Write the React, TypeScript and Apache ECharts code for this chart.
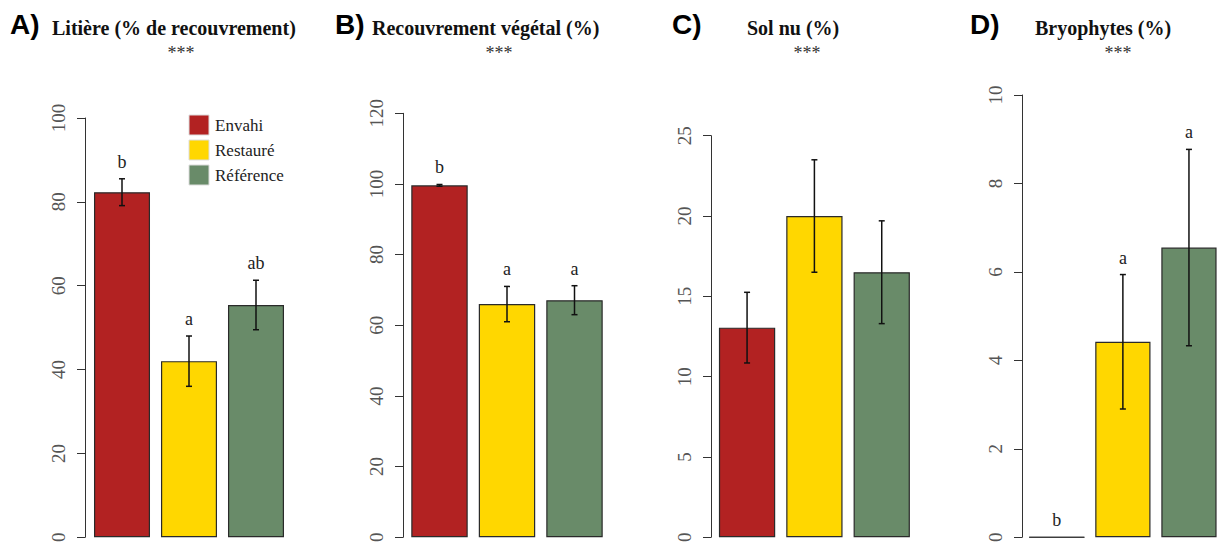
import React, { useEffect, useRef } from "react";
import * as echarts from "echarts";

// ---- data ----
const groups = ["Envahi", "Restauré", "Référence"];
const groupColors = ["#B22222", "#FFD700", "#698B69"];

const panelTags = ["A)", "B)", "C)", "D)"];
const panelTitles = [
  "Litière (% de recouvrement)",
  "Recouvrement végétal (%)",
  "Sol nu (%)",
  "Bryophytes (%)",
];
const panelSignif = ["***", "***", "***", "***"];

const litiereMean = [82.3, 42.0, 55.4];
const litiereSE = [3.2, 6.0, 5.9];
const litiereLetters = ["b", "a", "ab"];

const vegetalMean = [99.6, 66.0, 67.1];
const vegetalSE = [0.25, 5.0, 4.1];
const vegetalLetters = ["b", "a", "a"];

const solNuMean = [13.05, 20.0, 16.5];
const solNuSE = [2.2, 3.5, 3.2];
const solNuLetters = ["", "", ""];

const bryoMean = [0, 4.42, 6.55];
const bryoSE = [0, 1.52, 2.22];
const bryoLetters = ["b", "a", "a"];

const yMaxes = [100, 120, 25, 10];
const yIntervals = [20, 20, 5, 2];

// ---- layout ----
const panels = [
  { mean: litiereMean, se: litiereSE, letters: litiereLetters },
  { mean: vegetalMean, se: vegetalSE, letters: vegetalLetters },
  { mean: solNuMean, se: solNuSE, letters: solNuLetters },
  { mean: bryoMean, se: bryoSE, letters: bryoLetters },
];
const gridLayout = [
  { left: 88.5, width: 201, top: 118, bottom: 3, axisX: 85 },
  { left: 405.75, width: 202.5, top: 113.3, bottom: 3.3, axisX: 403 },
  { left: 713.4, width: 202, top: 135.7, bottom: 3.3, axisX: 711 },
  { left: 1023.75, width: 202.5, top: 95, bottom: 4.5, axisX: 1022 },
];
const tagX = [10, 335, 672, 970];
const titleX = [52, 372, 747, 1035];
const signifX = [181, 499, 807, 1118];

export default function App() {
  const ref = useRef<HTMLDivElement>(null);

  useEffect(() => {
    if (!ref.current) return;
    const chart = echarts.init(ref.current, undefined, { renderer: "svg" });

    const grids = gridLayout.map((g) => ({
      left: g.left,
      width: g.width,
      top: g.top,
      bottom: g.bottom,
      containLabel: false,
    }));

    const xAxes = panels.map((_, i) => ({
      type: "category",
      gridIndex: i,
      data: groups,
      show: false,
      boundaryGap: true,
    }));

    const yAxes = panels.map((_, i) => ({
      type: "value",
      gridIndex: i,
      min: 0,
      max: yMaxes[i],
      interval: yIntervals[i],
      offset: gridLayout[i].left - gridLayout[i].axisX,
      axisLine: { show: true, lineStyle: { color: "#333", width: 1 } },
      axisTick: { show: true, length: 8, lineStyle: { color: "#333", width: 1 } },
      splitLine: { show: false },
      axisLabel: {
        rotate: 90,
        fontSize: 19,
        fontFamily: "Liberation Serif",
        color: "#555",
        margin: 17,
      },
    }));

    const series: any[] = [];
    panels.forEach((p, i) => {
      series.push({
        type: "bar",
        xAxisIndex: i,
        yAxisIndex: i,
        barWidth: "83.6%",
        z: 2,
        data: p.mean.map((v, k) => ({
          value: v,
          itemStyle: { color: groupColors[k], borderColor: "#2a2a2a", borderWidth: 1.2 },
        })),
      });
      series.push({
        type: "custom",
        xAxisIndex: i,
        yAxisIndex: i,
        clip: false,
        z: 5,
        data: p.mean.map((v, k) => [k, v, p.se[k]]),
        renderItem: (params: any, api: any) => {
          const k = api.value(0);
          const m = api.value(1);
          const s = api.value(2);
          const band = api.size([1, 0])[0];
          const top = api.coord([k, m + s]);
          const bot = api.coord([k, m - s]);
          const base = api.coord([k, 0]);
          const stroke = { stroke: "#111", lineWidth: 1.5 };
          const children: any[] = [];
          if (m === 0) {
            children.push({
              type: "line",
              shape: { x1: base[0] - band * 0.418, y1: base[1], x2: base[0] + band * 0.418, y2: base[1] },
              style: { stroke: "#333", lineWidth: 1.2 },
            });
          }
          if (s > 0) {
            children.push({ type: "line", shape: { x1: top[0], y1: top[1], x2: bot[0], y2: bot[1] }, style: stroke });
            children.push({ type: "line", shape: { x1: top[0] - 3, y1: top[1], x2: top[0] + 3, y2: top[1] }, style: stroke });
            children.push({ type: "line", shape: { x1: bot[0] - 3, y1: bot[1], x2: bot[0] + 3, y2: bot[1] }, style: stroke });
          }
          const letter = p.letters[params.dataIndex];
          if (letter) {
            children.push({
              type: "text",
              x: top[0],
              y: top[1] - 17,
              style: {
                text: letter,
                fontSize: 18,
                fontFamily: "Liberation Serif",
                fill: "#222",
                align: "center",
                verticalAlign: "middle",
              },
            });
          }
          return { type: "group", children };
        },
      });
    });

    const graphics: any[] = [];
    panels.forEach((_, i) => {
      graphics.push({
        type: "text",
        left: tagX[i],
        top: 10,
        style: {
          text: panelTags[i],
          fontSize: 28,
          fontWeight: "bold",
          fontFamily: "Liberation Sans",
          fill: "#000",
        },
      });
      graphics.push({
        type: "text",
        x: titleX[i],
        y: 27.5,
        style: {
          text: panelTitles[i],
          fontSize: 20,
          fontWeight: "bold",
          fontFamily: "Liberation Serif",
          fill: "#111",
          align: "left",
          verticalAlign: "middle",
        },
      });
      graphics.push({
        type: "text",
        x: signifX[i],
        y: 53,
        style: {
          text: panelSignif[i],
          fontSize: 18,
          fontFamily: "Liberation Serif",
          fill: "#333",
          align: "center",
          verticalAlign: "middle",
        },
      });
    });
    groups.forEach((g, k) => {
      graphics.push({
        type: "rect",
        shape: { x: 189, y: 115 + k * 25, width: 20, height: 20 },
        style: { fill: groupColors[k], stroke: "#ddd", lineWidth: 1 },
      });
      graphics.push({
        type: "text",
        x: 215,
        y: 125 + k * 25,
        style: {
          text: g,
          fontSize: 17,
          fontFamily: "Liberation Serif",
          fill: "#222",
          align: "left",
          verticalAlign: "middle",
        },
      });
    });

    chart.setOption({
      animation: false,
      backgroundColor: "#fff",
      grid: grids,
      xAxis: xAxes,
      yAxis: yAxes,
      series,
      graphic: graphics,
    });

    return () => chart.dispose();
  }, []);

  return (
    <div
      ref={ref}
      style={{ position: "absolute", left: 0, top: 0, width: 1222, height: 545 }}
    />
  );
}
